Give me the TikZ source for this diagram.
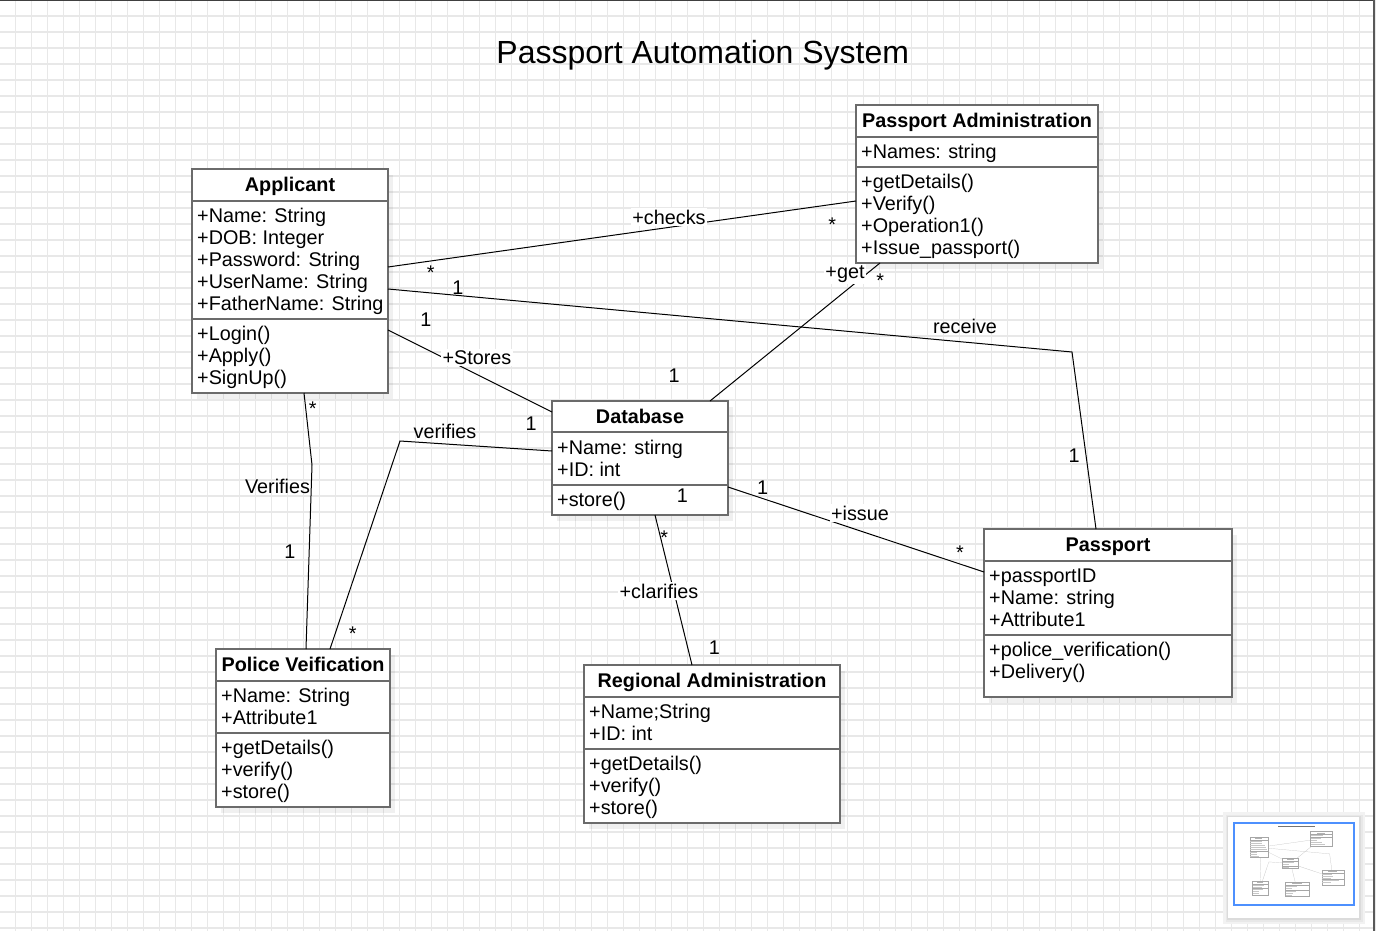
\documentclass[tikz,border=0pt]{standalone}
\usepackage{fontspec}
\setmainfont{Liberation Sans}
\usetikzlibrary{calc,shadows}
\definecolor{gridc}{HTML}{E8E8E8}
\definecolor{boxc}{HTML}{6B6B6B}
\definecolor{minib}{HTML}{4D90FE}
\newcommand\fsz{\fontsize{19.8}{24}\selectfont}
\tikzset{
  cls/.style={draw=boxc, line width=1.6pt, fill=white, inner sep=0pt, outer sep=0pt, anchor=north west,
    drop shadow={shadow xshift=5pt, shadow yshift=-6pt, opacity=0.06, fill=black}},
  hdr/.style={font=\fsz\bfseries, anchor=base, inner sep=0pt},
  row/.style={font=\fsz, anchor=base west, inner sep=0pt},
  lbl/.style={font=\fsz, anchor=base, inner sep=0pt},
  lblw/.style={font=\fsz, anchor=base, inner sep=1.5pt, fill=white},
  conn/.style={draw=black, line width=1pt},
  divl/.style={draw=boxc, line width=1.6pt},
  mini/.style={draw=black!35, line width=0.25pt},
  minil/.style={draw=black!25, line width=0.2pt},
}
\begin{document}
\begin{tikzpicture}[x=1pt,y=-1pt]
\useasboundingbox (0,0) rectangle (1376,931);
% background grid
\fill[white] (0,0) rectangle (1376,931);
\foreach \gx in {16,32,...,1376} \draw[gridc, line width=1.1pt] (\gx-0.3,0) -- (\gx-0.3,931);
\foreach \gy in {16,32,...,928} \draw[gridc, line width=1.1pt] (0,\gy) -- (1376,\gy);
\draw[black!75, line width=1.5pt] (0,0.6) -- (1374.3,0.6);
\draw[black!65, line width=2pt] (1374.3,0) -- (1374.3,931);

% title
\node[font=\fontsize{32}{38}\selectfont, anchor=base, inner sep=0pt] (title) at (702.8,64) {Passport Automation System};

% class boxes
\node[cls, minimum width=196pt, minimum height=224pt] (app) at (192,169) {};
\node[cls, minimum width=242pt, minimum height=158pt] (pa) at (856,105) {};
\node[cls, minimum width=176pt, minimum height=114pt] (db) at (552,401) {};
\node[cls, minimum width=248pt, minimum height=168pt] (pp) at (984,529) {};
\node[cls, minimum width=174pt, minimum height=158pt] (pol) at (216,649) {};
\node[cls, minimum width=256pt, minimum height=158pt] (reg) at (584,665) {};

% compartment dividers
\draw[divl] ($(app.north west)+(0,32)$) -- ($(app.north east)+(0,32)$);
\draw[divl] ($(app.north west)+(0,150)$) -- ($(app.north east)+(0,150)$);
\draw[divl] ($(pa.north west)+(0,32)$) -- ($(pa.north east)+(0,32)$);
\draw[divl] ($(pa.north west)+(0,62)$) -- ($(pa.north east)+(0,62)$);
\draw[divl] ($(db.north west)+(0,31)$) -- ($(db.north east)+(0,31)$);
\draw[divl] ($(db.north west)+(0,84)$) -- ($(db.north east)+(0,84)$);
\draw[divl] ($(pp.north west)+(0,32)$) -- ($(pp.north east)+(0,32)$);
\draw[divl] ($(pp.north west)+(0,106)$) -- ($(pp.north east)+(0,106)$);
\draw[divl] ($(pol.north west)+(0,32)$) -- ($(pol.north east)+(0,32)$);
\draw[divl] ($(pol.north west)+(0,84)$) -- ($(pol.north east)+(0,84)$);
\draw[divl] ($(reg.north west)+(0,32)$) -- ($(reg.north east)+(0,32)$);
\draw[divl] ($(reg.north west)+(0,84)$) -- ($(reg.north east)+(0,84)$);

% connectors
\coordinate (bendRecv) at (1072,352);
\coordinate (bendVer) at (312,465);
\coordinate (bendVer2) at (400,441);
\draw[conn] ($(app.north east)+(0,98)$) -- ($(pa.north west)+(0,96)$);
\draw[conn] ($(app.north east)+(0,120)$) -- (bendRecv) -- ($(pp.north west)+(112,0)$);
\draw[conn] ($(app.north east)+(0,161)$) -- ($(db.north west)+(0,11)$);
\draw[conn] ($(app.south west)+(112,0)$) -- (bendVer) -- ($(pol.north west)+(90,0)$);
\draw[conn] ($(db.north west)+(0,50)$) -- (bendVer2) -- ($(pol.north west)+(114,0)$);
\draw[conn] ($(db.north west)+(158,0)$) -- ($(pa.south west)+(24,0)$);
\draw[conn] ($(db.north east)+(0,86)$) -- ($(pp.north west)+(0,43)$);
\draw[conn] ($(db.south west)+(103,0)$) -- ($(reg.north west)+(108,0)$);

% Applicant
\node[hdr] (appH) at (290,191.5) {Applicant};
\node[row] (app1) at (197,222.5) {+Name: String};
\node[row] (app2) at (197,244.5) {+DOB: Integer};
\node[row] (app3) at (197,266.5) {+Password: String};
\node[row] (app4) at (197,288.5) {+UserName: String};
\node[row] (app5) at (197,310.5) {+FatherName: String};
\node[row] (app6) at (197,340.5) {+Login()};
\node[row] (app7) at (197,362.5) {+Apply()};
\node[row] (app8) at (197,384.5) {+SignUp()};

% Passport Administration
\node[hdr] (paH) at (977,127.5) {Passport Administration};
\node[row] (pa1) at (861,158.5) {+Names: string};
\node[row] (pa2) at (861,188.5) {+getDetails()};
\node[row] (pa3) at (861,210.5) {+Verify()};
\node[row] (pa4) at (861,232.5) {+Operation1()};
\node[row] (pa5) at (861,254.5) {+Issue\_passport()};

% Database
\node[hdr] (dbH) at (640,423.5) {Database};
\node[row] (db1) at (557,454.5) {+Name: stirng};
\node[row] (db2) at (557,476.5) {+ID: int};
\node[row] (db3) at (557,506.5) {+store()};

% Passport
\node[hdr] (ppH) at (1108,551.5) {Passport};
\node[row] (pp1) at (989,582.5) {+passportID};
\node[row] (pp2) at (989,604.5) {+Name: string};
\node[row] (pp3) at (989,626.5) {+Attribute1};
\node[row] (pp4) at (989,656.5) {+police\_verification()};
\node[row] (pp5) at (989,678.5) {+Delivery()};

% Police Veification
\node[hdr] (polH) at (303,671.5) {Police Veification};
\node[row] (pol1) at (221,702.5) {+Name: String};
\node[row] (pol2) at (221,724.5) {+Attribute1};
\node[row] (pol3) at (221,754.5) {+getDetails()};
\node[row] (pol4) at (221,776.5) {+verify()};
\node[row] (pol5) at (221,798.5) {+store()};

% Regional Administration
\node[hdr] (regH) at (712,687.5) {Regional Administration};
\node[row] (reg1) at (589,718.5) {+Name;String};
\node[row] (reg2) at (589,740.5) {+ID: int};
\node[row] (reg3) at (589,770.5) {+getDetails()};
\node[row] (reg4) at (589,792.5) {+verify()};
\node[row] (reg5) at (589,814.5) {+store()};

% connector labels
\node[lblw] (lChecks) at (669,224.3) {+checks};
\node[lbl] (lRecv) at (965,333) {receive};
\node[lblw] (lStores) at (477,364) {+Stores};
\node[lbl] (lVerU) at (277.5,493.3) {Verifies};
\node[lbl] (lVerL) at (445,438) {verifies};
\node[lblw] (lGet) at (845,278.3) {+get};
\node[lblw] (lIssue) at (860,520) {+issue};
\node[lblw] (lClar) at (659,598.3) {+clarifies};

% multiplicities
\node[lbl] (m1) at (430.7,279) {*};
\node[lbl] (m2) at (832.3,231.5) {*};
\node[lbl] (m3) at (880.3,287) {*};
\node[lbl] (m4) at (312.7,415.5) {*};
\node[lbl] (m5) at (352.7,640) {*};
\node[lbl] (m6) at (664.3,544) {*};
\node[lbl] (m7) at (960,559.5) {*};
\node[lbl] (n1) at (458,294) {1};
\node[lbl] (n2) at (426,326) {1};
\node[lbl] (n3) at (531,430) {1};
\node[lbl] (n4) at (290,558.5) {1};
\node[lbl] (n5) at (674,382) {1};
\node[lbl] (n6) at (682.3,502) {1};
\node[lbl] (n7) at (762.7,494) {1};
\node[lbl] (n8) at (1074,462) {1};
\node[lbl] (n9) at (714.3,654.5) {1};

% minimap
\fill[black!5] (1223,812) rectangle (1365,924);
\fill[black!9] (1225.5,814.5) rectangle (1362.5,921.5);
\fill[black!14] (1227,816) rectangle (1360.5,919.5);
\fill[white] (1228,817) rectangle (1359,918);
\begin{scope}[shift={(1232.6,822)}, scale=0.0905]
  \fill[black!55] (497,46) rectangle (908,60);
  \draw[minil] (388,267) -- (856,201);
  \draw[minil] (388,289) -- (1072,352) -- (1096,529);
  \draw[minil] (388,330) -- (552,412);
  \draw[minil] (304,393) -- (312,465) -- (306,649);
  \draw[minil] (552,451) -- (400,441) -- (330,649);
  \draw[minil] (710,401) -- (880,263);
  \draw[minil] (728,487) -- (984,572);
  \draw[minil] (655,515) -- (692,665);
  \foreach \bx/\by/\bw/\bh/\da/\db in {192/169/196/224/32/150, 856/105/242/158/32/62, 552/401/176/114/31/84, 984/529/248/168/32/106, 216/649/174/158/32/84, 584/665/256/158/32/84} {
    \fill[white] (\bx,\by) rectangle ++(\bw,\bh);
    \draw[mini] (\bx,\by) rectangle ++(\bw,\bh);
    \draw[mini] (\bx,\by+\da) -- ++(\bw,0);
    \draw[mini] (\bx,\by+\db) -- ++(\bw,0);
    \fill[black!30] (\bx+0.3*\bw,\by+12) rectangle ++(0.4*\bw,8);
  }
  \foreach \rx/\ry/\rw in {197/215/130, 197/237/130, 197/259/160, 197/281/170, 197/303/185, 197/333/75, 197/355/75, 197/377/90,
     861/151/135, 861/181/115, 861/203/75, 861/225/125, 861/247/160,
     557/447/125, 557/469/65, 557/499/70,
     989/575/110, 989/597/125, 989/619/100, 989/649/185, 989/671/95,
     221/695/130, 221/717/100, 221/747/115, 221/769/75, 221/791/70,
     589/711/125, 589/733/65, 589/763/115, 589/785/75, 589/807/70} {
    \fill[black!22] (\rx,\ry-4) rectangle ++(\rw,8);
  }
\end{scope}
\draw[minib, line width=1.2pt] (1234,823) rectangle (1354,905);
\end{tikzpicture}
\end{document}
